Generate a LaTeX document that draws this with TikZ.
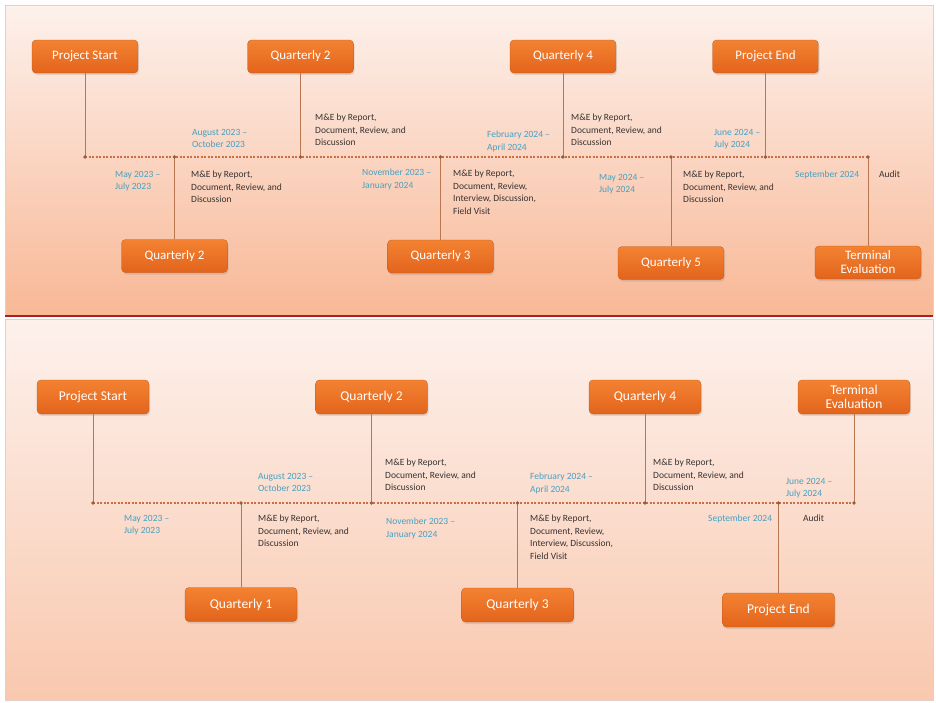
\documentclass[tikz,border=0pt]{standalone}
\usepackage{fontspec}
\setmainfont{Carlito}
\usetikzlibrary{shadows}
\definecolor{boxtop}{RGB}{243,130,50}
\definecolor{boxbot}{RGB}{226,100,28}
\definecolor{stemcol}{RGB}{185,118,80}
\definecolor{linecol}{RGB}{200,112,68}
\definecolor{datecol}{RGB}{70,160,195}
\definecolor{notecol}{RGB}{55,50,50}
\definecolor{paneltop}{RGB}{253,241,236}
\definecolor{panelbot}{RGB}{248,184,150}
\definecolor{panelbotb}{RGB}{249,200,174}
\definecolor{framecol}{RGB}{230,205,200}
\definecolor{rulecol}{RGB}{170,32,36}

\begin{document}
\begin{tikzpicture}[x=1pt,y=-1pt,
  phase/.style={rectangle,rounded corners=4pt,top color=boxtop,bottom color=boxbot,
    draw=boxbot!85!black,line width=0.3pt,text=white,align=center,
    minimum width=106pt,minimum height=33pt,inner sep=2pt,
    font=\fontsize{13}{14}\selectfont,
    drop shadow={opacity=0.22,shadow xshift=1pt,shadow yshift=-2pt}},
  bigphase/.style={phase,minimum width=112pt,minimum height=34pt,font=\fontsize{13.5}{14}\selectfont},
  when/.style={anchor=north west,inner sep=0pt,align=left,text=datecol,font=\fontsize{9.5}{12.5}\selectfont},
  what/.style={when,text=notecol},
  stem/.style={draw=stemcol,line width=0.8pt},
  axis/.style={draw=linecol,line width=1.2pt,dash pattern=on 2pt off 1.5pt},
  tick/.style={fill=stemcol!80!black}]
\useasboundingbox (0,0) rectangle (936,702);
\fill[white] (0,0) rectangle (936,702);
\shade[top color=paneltop,bottom color=panelbot] (5,5) rectangle (933,315);
\draw[framecol,line width=0.5pt] (5,5) rectangle (933,315);
\draw[rulecol,line width=2pt] (5,316) -- (933,316);
\shade[top color=paneltop,bottom color=panelbotb] (5,319) rectangle (933,700);
\draw[framecol,line width=0.5pt] (5,319) rectangle (933,700);

\node[phase] (start) at (85,56.5) {Project Start};
\node[phase] (qtwo) at (300.5,56.5) {Quarterly 2};
\node[phase] (qfour) at (563,56.5) {Quarterly 4};
\node[phase] (finish) at (765.5,56.5) {Project End};
\node[phase] (qone) at (174.5,256) {Quarterly 2};
\node[phase] (qthree) at (440.5,256.5) {Quarterly 3};
\node[phase] (qfive) at (671,263) {Quarterly 5};
\node[phase] (term) at (868,262.5) {Terminal\\Evaluation};

\coordinate (ta) at (start |- 0,157);
\coordinate (tb) at (qone |- 0,157);
\coordinate (tc) at (qtwo |- 0,157);
\coordinate (td) at (qthree |- 0,157);
\coordinate (te) at (qfour |- 0,157);
\coordinate (tf) at (qfive |- 0,157);
\coordinate (tg) at (finish |- 0,157);
\coordinate (th) at (term |- 0,157);
\draw[axis] (ta) -- (th);
\draw[stem] (start) -- (ta);
\draw[stem] (qtwo) -- (tc);
\draw[stem] (qfour) -- (te);
\draw[stem] (finish) -- (tg);
\draw[stem] (qone) -- (tb);
\draw[stem] (qthree) -- (td);
\draw[stem] (qfive) -- (tf);
\draw[stem] (term) -- (th);
\foreach \p in {ta,tb,tc,td,te,tf,tg,th}
  \fill[tick] (\p) circle (1.8);

\node[when] (d1) at (115,171) {May 2023 --\\July 2023};
\node[what] (n1) at (191,171) {M\&E by Report,\\Document, Review, and\\Discussion};
\node[when] (d2) at (192,129) {August 2023 --\\October 2023};
\node[what] (n2) at (315,114) {M\&E by Report,\\Document, Review, and\\Discussion};
\node[when] (d3) at (362,169) {November 2023 --\\January 2024};
\node[what] (n3) at (453,170) {M\&E by Report,\\Document, Review,\\Interview, Discussion,\\Field Visit};
\node[when] (d4) at (487,131) {February 2024 --\\April 2024};
\node[what] (n4) at (571,114) {M\&E by Report,\\Document, Review, and\\Discussion};
\node[when] (d5) at (599,174) {May 2024 --\\July 2024};
\node[what] (n5) at (683,171) {M\&E by Report,\\Document, Review, and\\Discussion};
\node[when] (d6) at (714,129) {June 2024 --\\July 2024};
\node[when] (d7) at (795,171) {September 2024};
\node[what] (n7) at (879,171) {Audit};

\node[bigphase] (startb) at (93,397) {Project Start};
\node[bigphase] (qtwob) at (371.5,397) {Quarterly 2};
\node[bigphase] (qfourb) at (645,397) {Quarterly 4};
\node[bigphase] (termb) at (854,397) {Terminal\\Evaluation};
\node[bigphase] (qoneb) at (241,604.5) {Quarterly 1};
\node[bigphase] (qthreeb) at (517.5,605) {Quarterly 3};
\node[bigphase] (finishb) at (778.5,610) {Project End};

\coordinate (ba) at (startb |- 0,503);
\coordinate (bb) at (qoneb |- 0,503);
\coordinate (bc) at (qtwob |- 0,503);
\coordinate (bd) at (qthreeb |- 0,503);
\coordinate (be) at (qfourb |- 0,503);
\coordinate (bf) at (finishb |- 0,503);
\coordinate (bg) at (termb |- 0,503);
\draw[axis] (ba) -- (bg);
\draw[stem] (startb) -- (ba);
\draw[stem] (qtwob) -- (bc);
\draw[stem] (qfourb) -- (be);
\draw[stem] (termb) -- (bg);
\draw[stem] (qoneb) -- (bb);
\draw[stem] (qthreeb) -- (bd);
\draw[stem] (finishb) -- (bf);
\foreach \p in {ba,bb,bc,bd,be,bf,bg}
  \fill[tick] (\p) circle (1.8);

\node[when] (d1b) at (124,515) {May 2023 --\\July 2023};
\node[what] (n1b) at (258,515) {M\&E by Report,\\Document, Review, and\\Discussion};
\node[when] (d2b) at (258,473) {August 2023 --\\October 2023};
\node[what] (n2b) at (385,459) {M\&E by Report,\\Document, Review, and\\Discussion};
\node[when] (d3b) at (386,518) {November 2023 --\\January 2024};
\node[when] (d4b) at (530,473) {February 2024 --\\April 2024};
\node[what] (n3b) at (530,515) {M\&E by Report,\\Document, Review,\\Interview, Discussion,\\Field Visit};
\node[what] (n4b) at (653,459) {M\&E by Report,\\Document, Review, and\\Discussion};
\node[when] (d6b) at (786,478) {June 2024 --\\July 2024};
\node[when] (d7b) at (708,515) {September 2024};
\node[what] (n7b) at (803,515) {Audit};
\end{tikzpicture}
\end{document}
